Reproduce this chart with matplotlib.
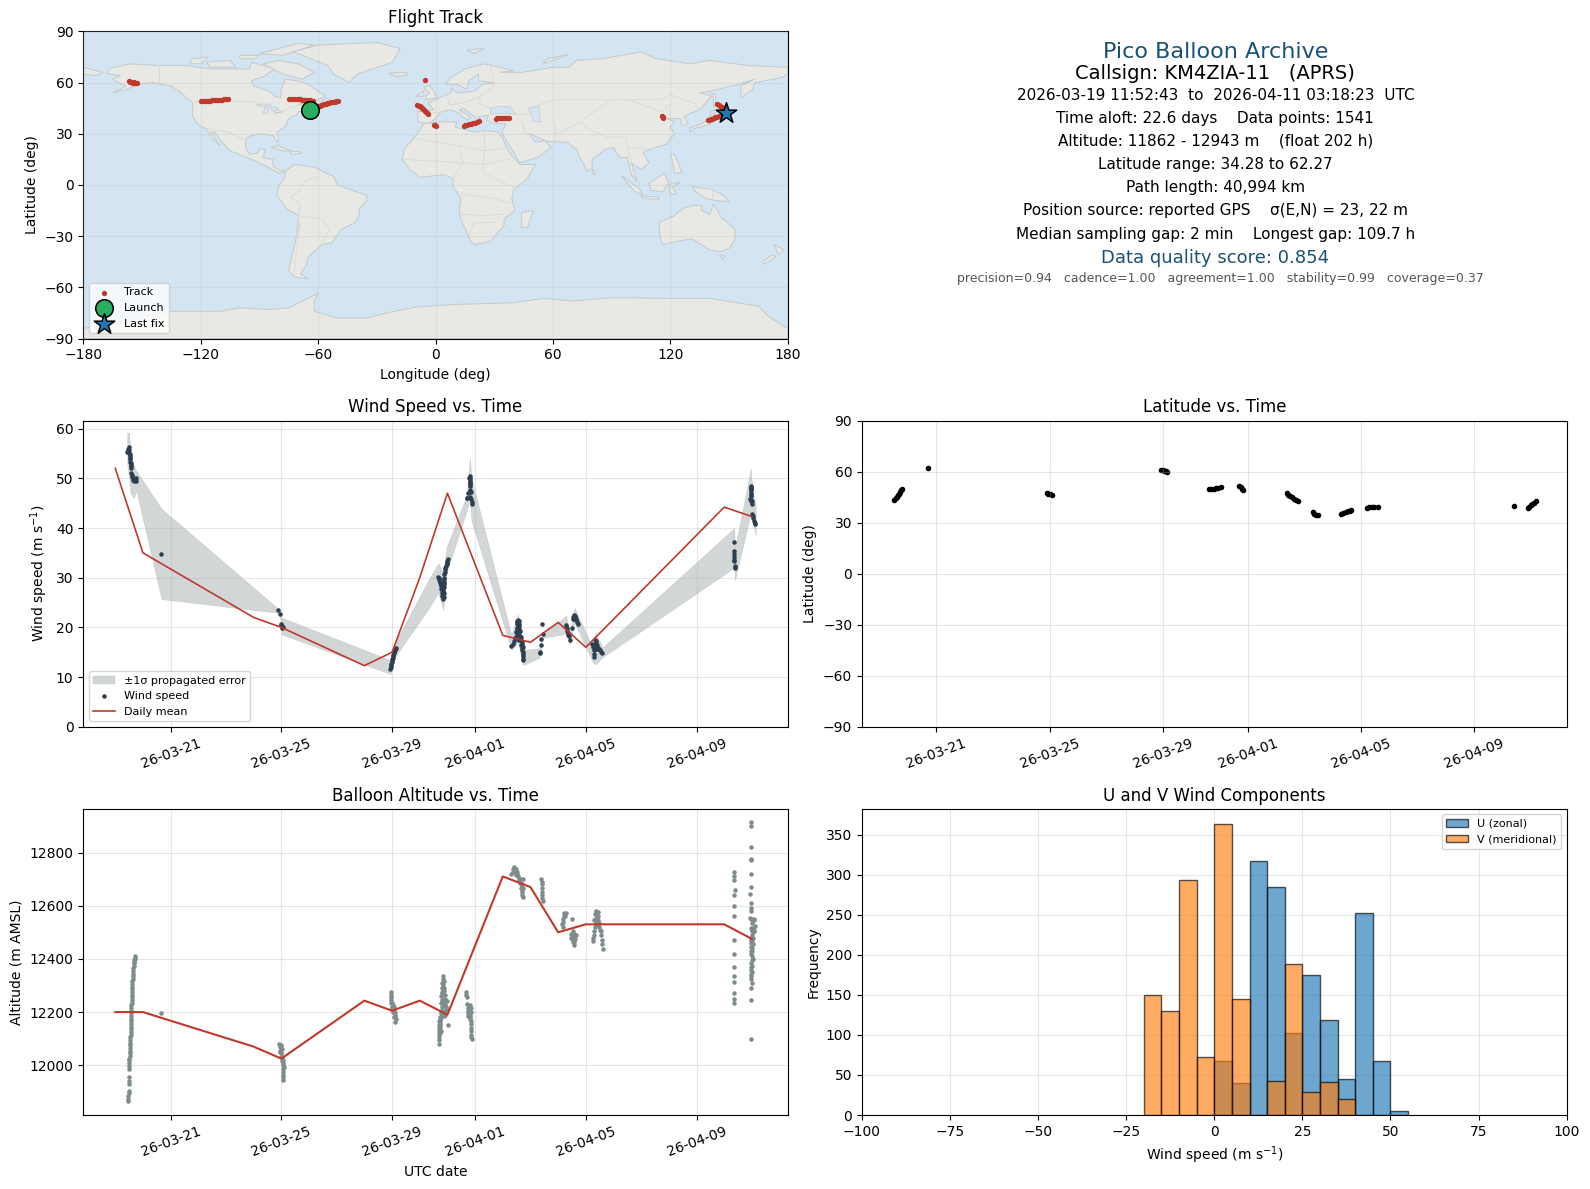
import datetime as dt
import numpy as np
import matplotlib
matplotlib.use("Agg")
import matplotlib.pyplot as plt
import matplotlib.dates as mdates

# times are "day of March 2026" (April 1 = 32)
day_t = [19, 20, 24, 25, 28, 29, 30, 31, 33, 34, 35, 36, 41, 42]
day_wind = [52, 35, 22, 20, 12.3, 15, 30, 47, 18.4, 17, 21, 16, 44.2, 42.3]
day_alt = [12200, 12200, 12070, 12025, 12243, 12205, 12243, 12190, 12710, 12670, 12500, 12530, 12530, 12475]

wind_pts = [(19.43, 55.3), (19.46, 55.9), (19.48, 56.2), (19.5, 55.6), (19.5, 55), (19.52, 54.4), (19.54, 53.8), (19.55, 53.2),
            (19.56, 52.6), (19.57, 52), (19.58, 51), (19.6, 50.6), (19.62, 50.2), (19.63, 49.7), (19.68, 49.4), (19.72, 49.6), (19.76, 50),
            (19.47, 55.4), (19.53, 54.9), (19.55, 54.1), (19.57, 53), (19.58, 52.4), (19.65, 50), (19.7, 49.9), (19.74, 49.5),
            (20.67, 34.7), (24.89, 23.5), (24.96, 22.7), (24.98, 20.4), (25.01, 20.0), (25.04, 20.3), (25.06, 20.1), (25.0, 20.6), (25.03, 19.8),
            (28.93, 11.7), (28.96, 12.4), (28.98, 13), (29.0, 13.6), (29.03, 14.2), (29.06, 14.8), (29.09, 15.4), (29.13, 15.9),
            (28.95, 12), (28.97, 12.7), (29.0, 13.3), (29.02, 13.9), (29.05, 14.5), (29.08, 15.1), (29.11, 15.7),
            (30.67, 30.2), (30.7, 29.6), (30.73, 29), (30.75, 28.4), (30.78, 27.8), (30.8, 27), (30.82, 26.4), (30.85, 25.8), (30.87, 27),
            (30.84, 28.6), (30.87, 29.8), (30.88, 30.7), (30.92, 31.8), (30.95, 32.4), (30.98, 33), (31.02, 33.7),
            (30.69, 30), (30.72, 29.4), (30.75, 29), (30.77, 28.6), (30.8, 28.2), (30.83, 27.6), (30.85, 27.2), (30.84, 26.6), (30.86, 26.2),
            (30.86, 28.2), (30.86, 29.2), (30.88, 30), (30.9, 31.2), (30.93, 32), (30.97, 32.8), (31.0, 33.4), (30.88, 28.8),
            (31.69, 46), (31.76, 47), (31.8, 47.6), (31.81, 48.8), (31.8, 49.6), (31.81, 50.4), (31.83, 49), (31.84, 47.2), (31.86, 45.9), (31.88, 44.9),
            (31.79, 50), (31.82, 50), (31.8, 49.2), (31.82, 48.4), (31.83, 46.2), (31.87, 45.3), (31.72, 46.1),
            (33.31, 16.2), (33.36, 16.6), (33.42, 17.2), (33.46, 18), (33.48, 19), (33.5, 19.8), (33.52, 20.6), (33.55, 21.5), (33.58, 21.2),
            (33.56, 20), (33.6, 19), (33.63, 18.2), (33.66, 17.4), (33.7, 16.6), (33.71, 15.8), (33.72, 15), (33.73, 14.3), (33.74, 13.7),
            (33.5, 21.2), (33.53, 21), (33.57, 20.6), (33.5, 18.4), (33.53, 19.4), (33.55, 18.6), (33.58, 19.6), (33.6, 20.2), (33.62, 19.2), (33.56, 17.6),
            (33.6, 17.4), (33.44, 17.8), (33.66, 18), (33.68, 17), (33.7, 15.4), (33.72, 16), (33.74, 14.7), (33.72, 13.4), (33.65, 16.4),
            (34.33, 14.9), (34.36, 15), (34.39, 16.4), (34.39, 17.7), (34.45, 18.6), (34.42, 20.7),
            (35.29, 20.5), (35.31, 19.8), (35.35, 18.8), (35.38, 18.2), (35.41, 17.4), (35.5, 19.9), (35.3, 20), (35.33, 19.3), (35.36, 18.4),
            (35.54, 22.0), (35.57, 22.4), (35.6, 22.2), (35.63, 21.7), (35.67, 21), (35.71, 20.7), (35.55, 21.6), (35.59, 21.6), (35.62, 22), (35.66, 21.4),
            (36.22, 16.6), (36.26, 16), (36.28, 14), (36.3, 14.7), (36.34, 17.4), (36.38, 16.8), (36.42, 16.4), (36.46, 15.6), (36.5, 15.4), (36.58, 14.9),
            (36.3, 16.2), (36.34, 16.4), (36.38, 16), (36.42, 15.6), (36.3, 15.4), (36.34, 15.6), (36.36, 17.2), (36.44, 15.9), (36.54, 15.1),
            (41.36, 37.1), (41.36, 35.4), (41.36, 34.8), (41.37, 34.2), (41.36, 33.4), (41.38, 32.4), (41.39, 31.9), (41.37, 33.6),
            (41.94, 45.8), (41.96, 48.4), (41.96, 47.6), (41.97, 47), (41.98, 46.4), (41.98, 45.6), (42.0, 44.9), (42.02, 42.8),
            (42.05, 42.1), (42.08, 41.4), (42.12, 40.9), (41.95, 48), (41.97, 48.3), (41.97, 47.9), (41.96, 46.6), (41.97, 45.4), (42.0, 45.4), (42.03, 42.5), (42.1, 41.1)]

band_t = [19.43, 19.5, 19.55, 19.62, 19.67, 19.76, 20.67, 24.92, 24.96, 25.0, 28.95, 29.1, 30.37, 30.67, 30.85, 30.97, 31.69,
          31.81, 31.87, 33.31, 33.55, 33.73, 34.33, 34.45, 35.29, 35.41, 35.59, 35.71, 36.25, 36.34, 36.61, 41.36, 41.39, 41.96, 42.02, 42.14]
band_hi = [59.2, 59.2, 55, 53, 52.7, 51.5, 43.9, 23.6, 23, 22, 13.4, 16.9, 30.1, 32.9, 31, 36.2, 46.5,
           54.2, 50, 18.5, 22.7, 15.5, 15.8, 18.5, 22.4, 19, 24, 22.5, 16, 19, 16, 40, 36, 52, 47, 44.8]
band_lo = [53, 50, 47, 46.5, 46, 47.5, 25.7, 22.9, 22, 18.6, 10.6, 14, 24.2, 27, 23.5, 31, 43.4,
           46, 41.4, 15.5, 17, 12.4, 13.9, 17.9, 18.7, 16.5, 20.8, 19.5, 13, 12.5, 14, 32, 29.5, 43, 41.6, 38.4]

alt_pts = [(19.47, 11865), (19.47, 11885), (19.48, 11905), (19.49, 11930), (19.49, 11955), (19.5, 11985), (19.5, 12010), (19.51, 12025), (19.52, 12045),
           (19.53, 12065), (19.54, 12085), (19.55, 12105), (19.56, 12125), (19.56, 12145), (19.57, 12165), (19.57, 12185), (19.58, 12205), (19.58, 12225),
           (19.59, 12245), (19.6, 12265), (19.6, 12285), (19.62, 12305), (19.63, 12325), (19.64, 12345), (19.65, 12365), (19.66, 12385), (19.68, 12395), (19.71, 12405), (19.73, 12411),
           (19.47, 11875), (19.48, 11895), (19.49, 11942), (19.5, 11998), (19.51, 12018), (19.52, 12035), (19.52, 12055), (19.54, 12075), (19.55, 12095), (19.56, 12115), (19.56, 12135), (19.57, 12155),
           (19.57, 12175), (19.58, 12195), (19.58, 12215), (19.59, 12235), (19.6, 12255), (19.6, 12275), (19.61, 12295), (19.62, 12315), (19.64, 12335), (19.65, 12355), (19.66, 12375), (19.67, 12390), (19.7, 12400),
           (20.67, 12196),
           (24.93, 12080), (24.97, 12078), (24.94, 12055), (24.97, 12045), (24.99, 12030), (25.02, 12015), (25.05, 12000), (25.07, 11985), (25.07, 11965), (25.07, 11946), (25.04, 12060),
           (24.95, 12068), (24.99, 12068), (24.96, 12050), (25.0, 12045), (25.03, 12030), (25.05, 12020), (25.06, 12008), (25.08, 11992), (25.07, 11975), (25.07, 11955),
           (28.95, 12274), (28.96, 12255), (28.97, 12235), (28.98, 12218), (29.02, 12225), (29.05, 12205), (29.1, 12190), (29.13, 12175), (29.1, 12164),
           (28.95, 12265), (28.97, 12245), (29.0, 12235), (29.0, 12215), (29.03, 12200), (29.08, 12180), (29.12, 12185), (29.1, 12200), (29.06, 12218),
           (30.7, 12080), (30.71, 12105), (30.7, 12130), (30.69, 12150), (30.72, 12170), (30.75, 12195), (30.8, 12220), (30.81, 12245), (30.82, 12270), (30.83, 12295), (30.83, 12337),
           (30.86, 12315), (30.88, 12280), (30.87, 12250), (30.9, 12225), (30.93, 12205), (30.96, 12240), (30.98, 12210), (31.03, 12150), (30.79, 12290), (30.8, 12190), (30.74, 12150),
           (30.7, 12095), (30.71, 12118), (30.71, 12140), (30.72, 12160), (30.74, 12182), (30.77, 12205), (30.78, 12235), (30.78, 12260), (30.8, 12275), (30.84, 12325), (30.84, 12305),
           (30.82, 12310), (30.86, 12290), (30.85, 12270), (30.85, 12240), (30.83, 12225), (30.87, 12225), (30.87, 12205), (30.83, 12200), (30.78, 12180), (30.74, 12170), (30.71, 12165),
           (30.9, 12250), (30.93, 12235), (30.95, 12220), (30.98, 12240), (30.92, 12265), (30.9, 12190), (30.87, 12185), (30.75, 12130), (30.73, 12120), (30.73, 12140),
           (31.66, 12274), (31.69, 12255), (31.72, 12230), (31.73, 12205), (31.75, 12185), (31.78, 12210), (31.82, 12190), (31.84, 12165), (31.85, 12140), (31.86, 12115), (31.87, 12098), (31.84, 12215),
           (31.68, 12265), (31.73, 12215), (31.74, 12195), (31.77, 12195), (31.8, 12175), (31.83, 12180), (31.85, 12155), (31.85, 12128), (31.86, 12105), (31.8, 12225), (31.84, 12200),
           (33.31, 12720), (33.36, 12738), (33.42, 12745), (33.48, 12738), (33.52, 12720), (33.58, 12700), (33.63, 12685), (33.66, 12665), (33.7, 12650), (33.72, 12632), (33.72, 12700),
           (33.38, 12725), (33.44, 12730), (33.5, 12725), (33.46, 12715), (33.55, 12712), (33.6, 12695), (33.65, 12700), (33.66, 12680), (33.7, 12680), (33.68, 12660), (33.72, 12665), (33.71, 12642),
           (34.39, 12700), (34.41, 12680), (34.4, 12650), (34.42, 12630), (34.45, 12618), (34.43, 12690), (34.4, 12665), (34.42, 12642),
           (35.14, 12530), (35.18, 12550), (35.22, 12573), (35.27, 12573), (35.5, 12550), (35.55, 12505), (35.5, 12490), (35.52, 12470), (35.57, 12453), (35.6, 12475), (35.63, 12490), (35.45, 12495),
           (35.16, 12540), (35.2, 12560), (35.16, 12520), (35.24, 12560), (35.5, 12480), (35.55, 12480), (35.58, 12465), (35.56, 12495), (35.6, 12490), (35.48, 12480), (35.53, 12462),
           (36.25, 12468), (36.28, 12490), (36.32, 12520), (36.3, 12545), (36.33, 12570), (36.38, 12581), (36.43, 12575), (36.45, 12545), (36.48, 12520), (36.55, 12505), (36.58, 12470), (36.61, 12439),
           (36.26, 12478), (36.3, 12505), (36.34, 12550), (36.36, 12530), (36.4, 12560), (36.44, 12560), (36.38, 12545), (36.42, 12530), (36.36, 12575), (36.47, 12535), (36.5, 12510), (36.56, 12490), (36.6, 12455),
           (41.36, 12725), (41.36, 12712), (41.36, 12695), (41.38, 12660), (41.37, 12640), (41.36, 12600), (41.36, 12560), (41.36, 12470), (41.36, 12420), (41.36, 12370), (41.36, 12335), (41.36, 12312), (41.36, 12272), (41.36, 12248), (41.36, 12235),
           (41.96, 12913), (41.96, 12900), (41.95, 12822), (41.97, 12775), (41.96, 12770), (41.96, 12720), (41.96, 12672), (41.94, 12645), (41.96, 12610), (41.96, 12590), (41.96, 12580), (41.94, 12555),
           (42.07, 12550), (42.1, 12525), (42.05, 12500), (42.0, 12490), (41.98, 12470), (41.96, 12445), (41.98, 12420), (41.99, 12395), (41.97, 12370), (42.0, 12350), (41.96, 12335), (42.01, 12310), (41.95, 12292), (41.96, 12245), (41.96, 12100),
           (42.04, 12455), (42.07, 12520), (42.02, 12430), (42.03, 12400), (42.0, 12535), (41.97, 12550), (41.98, 12480), (41.97, 12460), (42.0, 12460), (42.0, 12440), (41.97, 12430), (42.0, 12410), (41.98, 12385), (42.0, 12375),
           (41.98, 12360), (41.97, 12345), (41.98, 12325), (42.04, 12480), (42.06, 12505), (42.09, 12545), (42.08, 12505), (42.02, 12510), (41.99, 12505), (41.97, 12515), (42.01, 12470)]

lat_pts = [(19.52, 43.6), (19.56, 44.5), (19.6, 45.4), (19.63, 46.2), (19.67, 47.1), (19.7, 48), (19.74, 49), (19.78, 49.7), (20.7, 62.3),
           (24.9, 47.6), (24.96, 47.1), (25.03, 46.6), (25.09, 46), (28.95, 60.8), (29.0, 60.8), (29.05, 60.4), (29.1, 60.2), (29.15, 60),
           (30.65, 50.1), (30.72, 50.1), (30.8, 50.1), (30.88, 50.2), (30.95, 50.5), (31.05, 50.7),
           (31.7, 51.5), (31.75, 50.8), (31.8, 50.1), (31.85, 49.5),
           (33.38, 47.2), (33.44, 46.5), (33.5, 45.8), (33.56, 45), (33.62, 44.2), (33.7, 43.3), (33.76, 42.8),
           (34.3, 36.1), (34.36, 35.3), (34.42, 34.6), (34.47, 34.3),
           (35.3, 35.3), (35.38, 35.6), (35.46, 36.1), (35.54, 36.8), (35.6, 37.1), (35.65, 37.3),
           (36.2, 38.9), (36.28, 39.3), (36.38, 39.5), (36.48, 39.5), (36.6, 39.5), (41.4, 40),
           (41.9, 38.6), (41.95, 39.5), (42.0, 40.4), (42.05, 41.2), (42.1, 41.8), (42.2, 42.6)]

track_pts = [(-156.6, 60.7), (-155.5, 60.4), (-154.5, 60), (-153.4, 59.8), (-152.6, 59.7), (-156, 60.2), (-154, 60.3),
             (-119.8, 49.4), (-119, 49.4), (-118, 49.4), (-117, 49.4), (-116, 49.5), (-115, 49.5), (-114, 49.6), (-113, 49.7), (-112, 49.8), (-111, 49.9), (-110, 50), (-109, 50.1), (-108, 50.2), (-107, 50.3), (-105.8, 50.4),
             (-74.8, 50.6), (-73.5, 50.6), (-72.5, 50.6), (-71, 50.5), (-70, 50.3), (-69, 50.2), (-68, 50.1), (-67, 50), (-66, 49.9), (-65, 49.8), (-64, 49.6), (-63, 49.5), (-62.4, 49.4),
             (-60, 46), (-59.2, 46.4), (-58.5, 46.7), (-57.8, 47), (-57, 47.2), (-56.2, 47.5), (-55.5, 47.8), (-54.5, 48.1), (-53.5, 48.4), (-52.5, 48.7), (-51.5, 48.9), (-50.8, 49), (-50, 49),
             (-5.3, 61.7), (-9.3, 46.7), (-8.6, 46.4), (-8, 46), (-7.5, 45.5), (-7, 45), (-6.5, 44.5), (-6, 44), (-5.5, 43.5), (-5, 43), (-4.5, 42.4), (-4, 41.8),
             (-1, 35.4), (-0.4, 34.9), (0.3, 34.3), (14.4, 34.6), (15.2, 34.9), (16, 35.2), (17, 35.5), (18, 35.8), (19, 36.1), (20, 36.5), (21, 36.9), (22.3, 37.3),
             (30.8, 38.9), (31.6, 39), (32.5, 39.2), (33.5, 39.3), (34.5, 39.4), (35.2, 39.4), (36, 39.4), (36.8, 39.5), (37.6, 39.5), (115.8, 40.2), (116.1, 39.8), (116.4, 39.4),
             (139, 38), (139.8, 38.3), (140.5, 38.6), (141.3, 38.9), (142, 39.2), (143, 39.6), (144, 40), (145, 40.4), (146, 40.8), (144, 47.3), (144.7, 46.9), (145.5, 46.5), (146.2, 45.9), (147, 45.3)]
launch_lon, launch_lat = -64, 44
last_lon, last_lat = 148.5, 42

u_counts = [68, 40, 317, 284, 102, 175, 119, 45, 252, 68, 5]
u_bins = [0, 5, 10, 15, 20, 25, 30, 35, 40, 45, 50]
v_counts = [150, 130, 293, 72, 363, 145, 42, 189, 29, 41, 20]
v_bins = [-20, -15, -10, -5, 0, 5, 15, 20, 25, 30, 35]

# rough coastlines, lon/lat
land = [
    [(-168, 65.5), (-166, 68.5), (-156, 71), (-141, 70), (-128, 70), (-115, 68), (-108, 68), (-95, 68), (-94, 72), (-85, 69), (-81, 69), (-87, 64), (-94, 61),
     (-93, 58), (-85, 55), (-82, 52), (-79, 51), (-79, 55), (-77, 62), (-70, 61), (-65, 59), (-60, 55), (-56, 52), (-60, 50), (-66, 50), (-70, 47), (-65, 49),
     (-64, 46), (-61, 46), (-66, 44), (-70, 43), (-71, 41), (-74, 40), (-76, 37), (-76, 35), (-81, 31), (-80, 26), (-81, 25), (-83, 29), (-89, 30), (-94, 29),
     (-97, 27), (-97, 22), (-95, 18), (-91, 18.5), (-90, 21), (-87, 21), (-88, 16), (-83, 15), (-83, 11), (-80, 9), (-77, 8), (-80, 7), (-85, 10), (-92, 14),
     (-96, 16), (-105, 20), (-109, 25), (-113, 31), (-115, 31), (-110, 23), (-115, 28), (-117, 33), (-121, 35), (-124, 40), (-124, 48), (-130, 54), (-135, 58),
     (-145, 60), (-152, 59), (-158, 56), (-165, 54), (-158, 58), (-162, 60), (-165, 62), (-161, 64)],
    [(-180, 69), (-170, 66), (-173, 64), (-180, 65)],
    [(-73, 78), (-60, 82), (-30, 83.5), (-18, 80), (-22, 72), (-40, 65), (-44, 60), (-52, 65), (-55, 70), (-68, 76)],
    [(-80, 73), (-70, 71), (-62, 66), (-68, 62), (-78, 65), (-88, 71)],
    [(-117, 72), (-105, 73), (-102, 69), (-115, 69)],
    [(-90, 77), (-70, 83), (-62, 82), (-78, 76)],
    [(-125, 74), (-116, 75), (-120, 71), (-125, 71)],
    [(-100, 76), (-90, 76), (-92, 74), (-100, 74)],
    [(-59, 47.5), (-53, 47), (-55, 51), (-57, 50)],
    [(-84, 22), (-80, 23), (-74, 20), (-78, 20)],
    [(-74, 19.8), (-69, 19.5), (-68.5, 18.5), (-74, 18)],
    [(-77, 8), (-72, 12), (-62, 10.5), (-52, 5), (-50, 0), (-44, -2.5), (-35, -6), (-35, -9), (-39, -14), (-39, -18), (-41, -22), (-48, -26), (-53, -34),
     (-58, -35), (-62, -39), (-65, -42), (-66, -47), (-69, -52), (-65, -55), (-72, -54), (-75, -50), (-73, -40), (-71, -30), (-70, -18), (-76, -14), (-81, -6),
     (-80, 0), (-77, 4)],
    [(-17, 15), (-16, 21), (-10, 29), (-6, 36), (3, 37), (11, 37), (10, 34), (20, 31), (25, 32), (32, 31), (34, 28), (37, 20), (43, 12), (51, 12), (47, 4),
     (40, -3), (39, -8), (40.5, -15), (35, -20), (35, -24), (32.5, -27), (28, -33), (20, -35), (18, -33), (14, -23), (12, -16), (13, -8), (9, -1), (9, 4),
     (4, 6), (-4, 5), (-8, 4.5), (-13, 9)],
    [(44, -16), (50, -15), (47, -25), (44, -25)],
    [(-9, 37), (-9, 43), (-1, 44), (-4, 48), (2, 51), (8, 54), (8, 57), (11, 54), (20, 55), (24, 59), (30, 60), (22, 61), (22, 65), (17, 61), (16, 56), (11, 59),
     (5, 59), (8, 63), (15, 68), (25, 71), (40, 67), (33, 66), (44, 66), (60, 69), (68, 69), (72, 73), (85, 74), (105, 78), (113, 74), (130, 71), (140, 73),
     (160, 70), (180, 69), (180, 65), (177, 63), (163, 60), (162, 56), (156, 51), (156, 58), (163, 62), (155, 59), (140, 55), (135, 54), (141, 52), (135, 44),
     (130, 42), (127, 40), (129, 36), (126, 34.5), (125, 39), (121, 39), (118, 39), (122, 37), (120, 34), (122, 30), (118, 24), (110, 21), (106, 19), (109, 13),
     (105, 9), (100, 13), (103, 2), (100, 6), (98, 16), (94, 16), (91, 22), (87, 21), (80, 15), (80, 10), (77.5, 8), (73, 18), (72, 21), (67, 25), (57, 25.5),
     (52, 28), (48, 30), (51, 25), (56, 26), (59, 22), (52, 16), (43, 13), (39, 21), (35, 28), (34, 31), (36, 36), (30, 36), (26, 38), (27, 41), (22, 40),
     (23, 37), (19, 41), (14, 45), (12, 44), (18, 40), (16, 38), (12, 42), (8, 44), (3, 43), (0, 39), (-2, 37), (-5, 36)],
    [(-10, 52), (-6, 55), (-6, 52)],
    [(-5, 50), (1, 51), (-1, 55), (-3, 58.5), (-6, 57), (-3, 54), (-5, 52)],
    [(-24, 65.5), (-15, 66), (-14, 64.5), (-20, 63.5)],
    [(16, 79), (25, 80), (20, 77)],
    [(55, 71), (68, 76.5), (57, 74)],
    [(141, 54), (143, 53), (143, 47), (142, 46), (142, 50)],
    [(140, 41), (142, 40), (141, 36), (137, 34.5), (132, 33), (130, 31), (130, 33.5), (136, 36), (139, 38)],
    [(140, 43), (145, 44), (143, 42), (141, 42)],
    [(95, 5.5), (104, -2), (106, -6), (102, -4), (98, 1)],
    [(109, 1), (117, 7), (119, 1), (116, -4), (110, -3)],
    [(105, -6.5), (114, -7), (114, -8.5), (106, -7.7)],
    [(119.5, 0.5), (125, 1.5), (121, -1), (123, -5), (120, -5.5)],
    [(131, -1), (141, -2.5), (147, -6), (150, -10), (143, -9), (138, -8), (133, -4)],
    [(120, 18), (122, 18), (124, 13), (126, 7), (122, 7), (121, 14)],
    [(80, 9.5), (82, 7), (80.5, 6)],
    [(114, -22), (122, -18), (126, -14), (131, -12), (136, -12), (136, -15), (140, -17.5), (142, -11), (146, -19), (153, -26), (153, -32), (150, -37), (146, -39),
     (140, -38), (136, -35), (131, -31.5), (124, -33), (116, -35), (115, -32)],
    [(145, -41), (148, -41), (147, -43.5)],
    [(173, -35), (178, -38), (175, -41), (174, -38)],
    [(172, -41), (174, -42), (168, -46.5), (167, -45)],
    [(-180, -84), (-158, -81), (-150, -77), (-135, -74), (-110, -74), (-100, -72), (-85, -73), (-75, -72), (-68, -68), (-60, -63.5), (-62, -68), (-62, -74), (-50, -78), (-35, -78),
     (-25, -75), (-10, -71.5), (10, -70), (40, -69), (55, -66.5), (70, -68), (90, -66), (120, -66.5), (140, -66.5), (165, -71), (170, -77), (180, -84), (180, -90), (-180, -90)],
]
lakes = [
    [(28, 41.5), (28, 45), (33, 46), (38, 46), (41, 42), (35, 42)],
    [(47, 45), (53, 46), (53, 40), (54, 37), (50, 37), (49, 41)],
    [(-92, 47), (-85, 47.5), (-84, 46.5), (-88, 46)],
    [(-87, 46), (-85, 45.5), (-86, 42), (-88, 42)],
    [(-84, 46), (-80, 45), (-82, 43), (-84, 44)],
    [(-83, 42), (-79, 43), (-77, 44), (-79, 42.5)],
]
borders = [
    [(-123, 49), (-95, 49), (-83, 46), (-79, 43), (-75, 45), (-69, 47), (-67, 45)], [(-141, 70), (-141, 60), (-130, 55)], [(-117, 33), (-106, 31), (-97, 26)],
    [(-70, -18), (-69, -11), (-74, -7), (-70, -4), (-67, 2), (-60, 5)], [(-70, -18), (-58, -20), (-54, -26), (-58, -34)], [(-71, -30), (-69, -22)], [(-72, -52), (-71, -38), (-69, -22)],
    [(-9, 27), (12, 23), (25, 20), (37, 22)], [(25, 32), (25, 20), (24, 8), (30, 4), (41, -2)], [(12, 23), (14, 13), (9, 4)], [(-17, 15), (14, 13), (24, 12), (38, 15)],
    [(13, -5), (30, -8), (40, -11)], [(12, -17), (25, -18), (35, -17)], [(17, -29), (20, -22), (30, -22)],
    [(28, 70), (30, 60), (28, 56), (23, 52), (22, 48), (28, 45)], [(7, 47), (14, 48), (23, 52)], [(-2, 43), (3, 43)], [(6, 51), (7, 47)],
    [(40, 41), (48, 42), (50, 46), (60, 50), (85, 50), (98, 50), (115, 50), (120, 53), (132, 48), (135, 44)], [(88, 49), (80, 42), (74, 37), (79, 32), (88, 28), (97, 28), (98, 22), (108, 21)],
    [(61, 36), (61, 25)], [(44, 37), (46, 30), (48, 30)], [(74, 37), (62, 30)], [(98, 22), (100, 13)], [(98, 50), (115, 43), (120, 47)], [(141, -2.5), (141, -9)],
]

grid_alpha = 0.3
red = "#c0392b"


def to_dates(days):
    return mdates.date2num(dt.datetime(2026, 3, 1)) + np.asarray(days, dtype=float) - 1


time_ticks = [dt.datetime(2026, 3, 21), dt.datetime(2026, 3, 25), dt.datetime(2026, 3, 29),
              dt.datetime(2026, 4, 1), dt.datetime(2026, 4, 5), dt.datetime(2026, 4, 9)]


def format_time_axis(ax):
    ax.xaxis.set_major_locator(matplotlib.ticker.FixedLocator(mdates.date2num(time_ticks)))
    ax.xaxis.set_major_formatter(mdates.DateFormatter("%y-%m-%d"))
    ax.tick_params(axis="x", labelrotation=20)
    ax.grid(alpha=grid_alpha)


W, H = 1568.0, 1173.0
def box(x0, x1, y0, y1):
    return [x0 / W, 1 - y1 / H, (x1 - x0) / W, (y1 - y0) / H]


fig = plt.figure(figsize=(15.9, 11.89), dpi=100)
ax_map = fig.add_axes(box(82, 777, 31, 334))
ax_info = fig.add_axes(box(850, 1545, 31, 334))
ax_wind = fig.add_axes(box(82, 777, 415, 717))
ax_lat = fig.add_axes(box(850, 1545, 415, 717))
ax_alt = fig.add_axes(box(82, 777, 798, 1100))
ax_hist = fig.add_axes(box(850, 1545, 798, 1100))

# map
ax_map.set_facecolor("#d3e5f2")
for poly in land:
    xs, ys = zip(*poly)
    ax_map.fill(xs, ys, facecolor="#e8e8e4", edgecolor="#c4cacc", linewidth=0.7, zorder=1)
for poly in lakes:
    xs, ys = zip(*poly)
    ax_map.fill(xs, ys, facecolor="#d3e5f2", edgecolor="#c4cacc", linewidth=0.5, zorder=1.2)
for line in borders:
    xs, ys = zip(*line)
    ax_map.plot(xs, ys, color="#d9d9d7", linewidth=0.6, zorder=1.5)
lon, lat = zip(*track_pts)
ax_map.scatter(lon, lat, s=8, color=red, zorder=3, label="Track")
ax_map.scatter(launch_lon, launch_lat, s=160, color="#27ae60", edgecolor="black", linewidth=1.1, zorder=4, label="Launch")
ax_map.scatter(last_lon, last_lat, s=240, marker="*", color="#1f77b4", edgecolor="black", linewidth=1.1, zorder=5, label="Last fix")
ax_map.set_xlim(-180, 180)
ax_map.set_ylim(-90, 90)
ax_map.set_xticks(np.arange(-180, 181, 60))
ax_map.set_yticks(np.arange(-90, 91, 30))
ax_map.xaxis.set_major_formatter(lambda v, p: f"{int(v)}".replace("-", "\u2212"))
ax_map.yaxis.set_major_formatter(lambda v, p: f"{int(v)}".replace("-", "\u2212"))
ax_map.grid(alpha=0.2, zorder=2)
ax_map.set_axisbelow(False)
ax_map.set_xlabel("Longitude (deg)")
ax_map.set_ylabel("Latitude (deg)")
ax_map.set_title("Flight Track")
ax_map.legend(loc="lower left", fontsize=8)

# summary text
ax_info.axis("off")
ax_info.set_xlim(0, 1)
ax_info.set_ylim(0, 1)
blue = "#1a5276"
info_lines = [
    ("Pico Balloon Archive", 51, 16, blue, 1198.5),
    ("Callsign: KM4ZIA-11   (APRS)", 73, 14, "black", 1198.5),
    ("2026-03-19 11:52:43  to  2026-04-11 03:18:23  UTC", 94, 11, "black", 1198.5),
    ("Time aloft: 22.6 days    Data points: 1541", 117, 11, "black", 1198.5),
    ("Altitude: 11862 - 12943 m    (float 202 h)", 139, 11, "black", 1198.5),
    ("Latitude range: 34.28 to 62.27", 162, 11, "black", 1198.5),
    ("Path length: 40,994 km", 185, 11, "black", 1198.5),
    ("Position source: reported GPS    \u03c3(E,N) = 23, 22 m", 208, 11, "black", 1198.5),
    ("Median sampling gap: 2 min    Longest gap: 109.7 h", 231, 11, "black", 1198.5),
    ("Data quality score: 0.854", 255, 13, blue, 1198.5),
    ("precision=0.94   cadence=1.00   agreement=1.00   stability=0.99   coverage=0.37", 275, 9, "#555555", 1203),
]
for text, ypix, size, col, xpix in info_lines:
    fig.text(xpix / W, 1 - ypix / H, text, fontsize=size, color=col, ha="center", va="center")

# wind
ax_wind.fill_between(to_dates(band_t), band_lo, band_hi, color="#7f8c8d", alpha=0.35, linewidth=0.3, label="\u00b11\u03c3 propagated error")
t, v = zip(*wind_pts)
ax_wind.scatter(to_dates(t), v, s=5, color="#2c3e50", label="Wind speed", zorder=3)
ax_wind.plot(to_dates(day_t), day_wind, color=red, linewidth=1.2, label="Daily mean", zorder=4)
ax_wind.set_ylim(0, 61.6)
ax_wind.set_ylabel("Wind speed (m s$^{-1}$)")
ax_wind.set_title("Wind Speed vs. Time")
format_time_axis(ax_wind)
ax_wind.set_xlim(to_dates(17.84), to_dates(43.3))
ax_wind.legend(loc="lower left", fontsize=8)

# latitude
t, v = zip(*lat_pts)
ax_lat.scatter(to_dates(t), v, s=9, color="black")
ax_lat.set_ylim(-90, 90)
ax_lat.set_yticks(np.arange(-90, 91, 30))
ax_lat.set_ylabel("Latitude (deg)")
ax_lat.set_title("Latitude vs. Time")
format_time_axis(ax_lat)
ax_lat.set_xlim(to_dates(18.37), to_dates(43.27))

# altitude
t, v = zip(*alt_pts)
ax_alt.scatter(to_dates(t), v, s=5, color="#7f8c8d", zorder=3)
ax_alt.plot(to_dates(day_t), day_alt, color=red, linewidth=1.5, zorder=4)
ax_alt.set_ylim(11813, 12964)
ax_alt.set_yticks([12000, 12200, 12400, 12600, 12800])
ax_alt.set_xlabel("UTC date")
ax_alt.set_ylabel("Altitude (m AMSL)")
ax_alt.set_title("Balloon Altitude vs. Time")
format_time_axis(ax_alt)
ax_alt.set_xlim(to_dates(17.84), to_dates(43.3))

# histogram
ax_hist.bar(u_bins, u_counts, width=5, align="edge", color="#1f77b4", alpha=0.65, edgecolor="black", label="U (zonal)", zorder=2)
ax_hist.bar(v_bins, v_counts, width=5, align="edge", color="#ff7f0e", alpha=0.65, edgecolor="black", label="V (meridional)", zorder=3)
ax_hist.set_xlim(-100, 100)
ax_hist.set_ylim(0, 382)
ax_hist.set_xticks(np.arange(-100, 101, 25))
ax_hist.set_xlabel("Wind speed (m s$^{-1}$)")
ax_hist.set_ylabel("Frequency")
ax_hist.set_title("U and V Wind Components")
ax_hist.grid(alpha=grid_alpha)
ax_hist.set_axisbelow(True)
ax_hist.legend(loc="upper right", fontsize=8)

fig.savefig("out.png", dpi=100)
